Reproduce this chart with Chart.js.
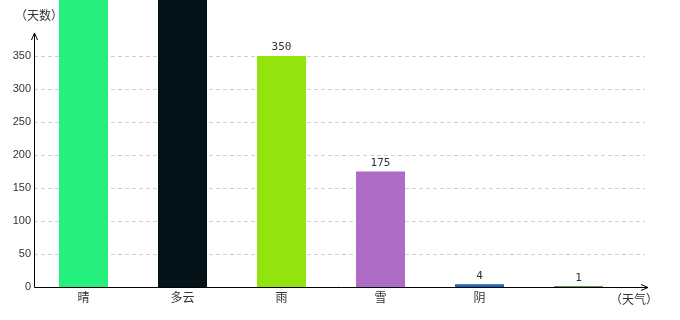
<!DOCTYPE html>
<html lang="zh">
<head>
    <meta charset="UTF-8">
    <title>天气统计</title>
    <script src="https://cdn.jsdelivr.net/npm/chart.js@4.4.1/dist/chart.umd.min.js"></script>
    <style>
        body { margin: 0; background: #fff; }
        .chart-container { width: 680px; height: 320px; position: relative; }
    </style>
</head>
<body>
<div class="chart-container">
    <canvas id="barChart"></canvas>
</div>
<script>
    // data (晴 / 多云 run past the top, values guessed)
    const weather = ['晴', '多云', '雨', '雪', '阴', ''];
    const days = [520, 480, 350, 175, 4, 1];
    const barColors = ['#25f07d', '#04121a', '#93e40e', '#ad6bc6', '#1a64b8', '#2f6a20'];
    const yTicksShown = [0, 50, 100, 150, 200, 250, 300, 350];

    const cjkFont = '"Noto Sans CJK SC", "Liberation Sans", sans-serif';

    const axesPlugin = {
        id: 'axesPlugin',
        beforeDatasetsDraw(chart) {
            const ctx = chart.ctx;
            const area = chart.chartArea;
            const y = chart.scales.y;
            ctx.save();
            ctx.strokeStyle = '#cfcfcf';
            ctx.lineWidth = 1;
            ctx.setLineDash([4, 3]);
            yTicksShown.forEach(v => {
                if (v === 0) return;
                const py = Math.round(y.getPixelForValue(v)) + 0.5;
                ctx.beginPath();
                ctx.moveTo(area.left, py);
                ctx.lineTo(area.right + 17, py);
                ctx.stroke();
            });
            ctx.restore();
        },
        afterDatasetsDraw(chart) {
            const ctx = chart.ctx;
            const area = chart.chartArea;
            const y = chart.scales.y;
            const meta = chart.getDatasetMeta(0);
            ctx.save();

            // value labels over bars
            ctx.fillStyle = '#333';
            ctx.font = '11px "DejaVu Sans Mono", monospace';
            ctx.textAlign = 'center';
            ctx.textBaseline = 'bottom';
            meta.data.forEach((bar, i) => {
                if (days[i] > y.max) return;
                ctx.fillText(String(days[i]), bar.x, bar.y - 3);
            });

            // axis lines with arrows
            const x0 = area.left + 0.5;
            const y0 = Math.round(y.getPixelForValue(0)) + 0.5;
            const xEnd = area.right + 20;
            const yEnd = 33;
            ctx.strokeStyle = '#000';
            ctx.lineWidth = 1;
            ctx.beginPath();
            ctx.moveTo(x0, y0);
            ctx.lineTo(xEnd, y0);
            ctx.moveTo(xEnd - 7, y0 - 3);
            ctx.lineTo(xEnd, y0);
            ctx.lineTo(xEnd - 7, y0 + 3);
            ctx.moveTo(x0, y0);
            ctx.lineTo(x0, yEnd);
            ctx.moveTo(x0 - 3, yEnd + 7);
            ctx.lineTo(x0, yEnd);
            ctx.lineTo(x0 + 3, yEnd + 7);
            ctx.stroke();

            // axis titles
            ctx.fillStyle = '#333';
            ctx.font = '12px ' + cjkFont;
            ctx.textBaseline = 'middle';
            ctx.fillText('（天数）', 39, 15);
            ctx.fillText('（天气）', xEnd - 14, 299);
            ctx.restore();
        }
    };

    new Chart(document.getElementById('barChart'), {
        type: 'bar',
        data: {
            labels: weather,
            datasets: [{
                data: days,
                backgroundColor: barColors,
                barPercentage: 0.99,
                categoryPercentage: 0.5
            }]
        },
        options: {
            responsive: true,
            maintainAspectRatio: false,
            animation: false,
            layout: { padding: { top: 0, right: 52, bottom: 0, left: 0 } },
            plugins: { legend: { display: false }, tooltip: { enabled: false } },
            scales: {
                x: {
                    grid: { display: false, drawTicks: false },
                    border: { display: false },
                    ticks: {
                        color: '#333',
                        font: { family: cjkFont, size: 12 },
                        padding: 3,
                        maxRotation: 0
                    },
                    afterFit(scale) { scale.height = 33; }
                },
                y: {
                    min: 0,
                    max: 435,
                    grid: { display: false, drawTicks: false },
                    border: { display: false },
                    ticks: {
                        stepSize: 50,
                        color: '#333',
                        padding: 3,
                        font: { family: '"Liberation Sans", sans-serif', size: 11 },
                        callback: v => (yTicksShown.includes(v) ? v : '')
                    },
                    afterFit(scale) {
                        scale.width = 34;
                        scale.paddingTop = 0;
                        scale.paddingBottom = 0;
                    }
                }
            }
        },
        plugins: [axesPlugin]
    });
</script>
</body>
</html>
